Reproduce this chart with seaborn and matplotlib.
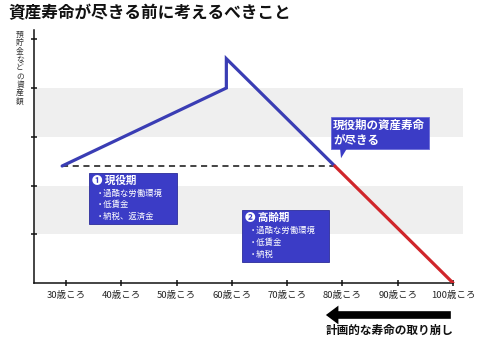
import numpy as np
import pandas as pd
import matplotlib
matplotlib.use("Agg")
import matplotlib.pyplot as plt
import matplotlib.transforms as mtransforms
from matplotlib.patches import Rectangle, Polygon
import seaborn as sns

# --- data -------------------------------------------------------------
ages = [29.3, 59.0, 59.0, 100.0]          # age (years)
assets = [2.4, 4.0, 4.6, 0.0]             # relative asset level
tick_ages = [30, 40, 50, 60, 70, 80, 90, 100]
tick_labels = [f"{a}歳ころ" for a in tick_ages]
band_ranges = [(1, 2), (3, 4)]

title = "資産寿命が尽きる前に考えるべきこと"
ylabel = "預貯金などの資産額"
box1_head = "❶ 現役期"
box1_items = ["過酷な労働環境", "低賃金", "納税、返済金"]
box2_head = "❷ 高齢期"
box2_items = ["過酷な労働環境", "低賃金", "納税"]
callout = "現役期の資産寿命\nが尽きる"
arrow_text = "計画的な寿命の取り崩し"

# --- style ------------------------------------------------------------
sns.set_theme(style="white")
plt.rcParams["font.family"] = ["Noto Sans CJK JP", "DejaVu Sans"]

BLUE = "#3a3db4"
BOX = "#3b3cc6"
RED = "#d0262b"
BAND = "#efefef"

fig = plt.figure(figsize=(4.8, 3.48), dpi=100)
ax = fig.add_axes([34 / 480, 65 / 348, 429 / 480, 253 / 348])
ax.set_xlim(24.21, 101.8)
ax.set_ylim(0, 253 / 48.75)

# shaded bands
for lo, hi in band_ranges:
    ax.axhspan(lo, hi, color=BAND, lw=0, zorder=0)

# asset curve: blue while funds last, red once the working-age level is passed
x_desc = np.array(ages[2:])
y_desc = np.array(assets[2:])
cross_x = float(np.interp(assets[0], y_desc[::-1], x_desc[::-1]))

blue_df = pd.DataFrame({"age": ages[:3] + [cross_x],
                        "asset": assets[:3] + [assets[0]]})
red_df = pd.DataFrame({"age": [cross_x, ages[3]],
                       "asset": [assets[0], assets[3]]})

ax.plot([ages[0], cross_x], [assets[0], assets[0]], color="#111111",
        lw=1.1, dashes=(4, 3), zorder=2)
sns.lineplot(data=blue_df, x="age", y="asset", sort=False, estimator=None,
             errorbar=None, color=BLUE, lw=2.3, ax=ax, zorder=3,
             solid_joinstyle="miter")
sns.lineplot(data=red_df, x="age", y="asset", sort=False, estimator=None,
             errorbar=None, color=RED, lw=2.3, ax=ax, zorder=3)

# axes decoration
ax.set_xticks(tick_ages)
ax.set_xticklabels(tick_labels, fontsize=6.8)
ax.set_yticks([1, 2, 3, 4, 5])
ax.set_yticklabels([])
ax.set_xlabel("")
ax.set_ylabel("")
for s in ["top", "right"]:
    ax.spines[s].set_visible(False)
for s in ["left", "bottom"]:
    ax.spines[s].set_color("#111111")
    ax.spines[s].set_linewidth(1.1)
ax.spines["bottom"].set_bounds(24.21, 100)
ax.tick_params(axis="x", direction="inout", length=5, width=1.1,
               color="#111111", pad=3.5, bottom=True)
ax.tick_params(axis="y", direction="inout", length=5, width=1.1,
               color="#111111", left=True)


def info_box(x0, x1, y0, y1, head, items):
    ax.add_patch(Rectangle((x0, y1), x1 - x0, y0 - y1, facecolor=BOX,
                           edgecolor="#2b2c9a", lw=0.6, zorder=4))
    h = y0 - y1
    ax.text(x0 + 0.55, y0 - h * 0.15, head, color="white", fontsize=7.6,
            fontweight="bold", va="center", ha="left", zorder=5)
    for i, it in enumerate(items):
        yy = y0 - h * (0.39 + 0.235 * i)
        ax.text(x0 + 1.3, yy, "・" + it, color="white", fontsize=6.0,
                va="center", ha="left", zorder=5)


info_box(34.16, 50.08, 2.256, 1.21, box1_head, box1_items)
info_box(61.83, 77.57, 1.497, 0.431, box2_head, box2_items)

# callout near the crossing point
ax.add_patch(Rectangle((77.93, 2.749), 95.65 - 77.93, 3.405 - 2.749,
                       facecolor=BOX, edgecolor="#6a6bd8", lw=0.6, zorder=4))
ax.add_patch(Polygon([(79.56, 2.76), (80.82, 2.76), (79.74, 2.56)],
                     closed=True, facecolor=BOX, edgecolor="none", zorder=4))
ax.text(78.3, 3.077, callout, color="white", fontsize=8.3,
        fontweight="bold", va="center", ha="left", linespacing=1.15,
        zorder=5)

# title and vertical y label
fig.text(8 / 480, 1 - 13 / 348, title, fontsize=12, fontweight="bold",
         ha="left", va="center", color="#111111")
fig.text(20 / 480, 1 - 31 / 348, "\n".join(ylabel), fontsize=5.6,
         ha="center", va="top", linespacing=1.05, color="#333333")

# drawdown arrow under the axis
ax.annotate("", xy=(76.5, 1 - 315 / 348), xytext=(100.1, 1 - 315 / 348),
            xycoords=("data", "figure fraction"),
            textcoords=("data", "figure fraction"),
            arrowprops=dict(arrowstyle="simple,head_length=0.9,head_width=1.35,tail_width=0.55",
                            mutation_scale=10, color="black", lw=0),
            annotation_clip=False)
blend = mtransforms.blended_transform_factory(ax.transData, fig.transFigure)
ax.text(100.0, 1 - 330 / 348, arrow_text, transform=blend,
        fontsize=8.4, fontweight="bold", ha="right", va="center",
        color="#111111")

fig.savefig("out.png", dpi=100)
